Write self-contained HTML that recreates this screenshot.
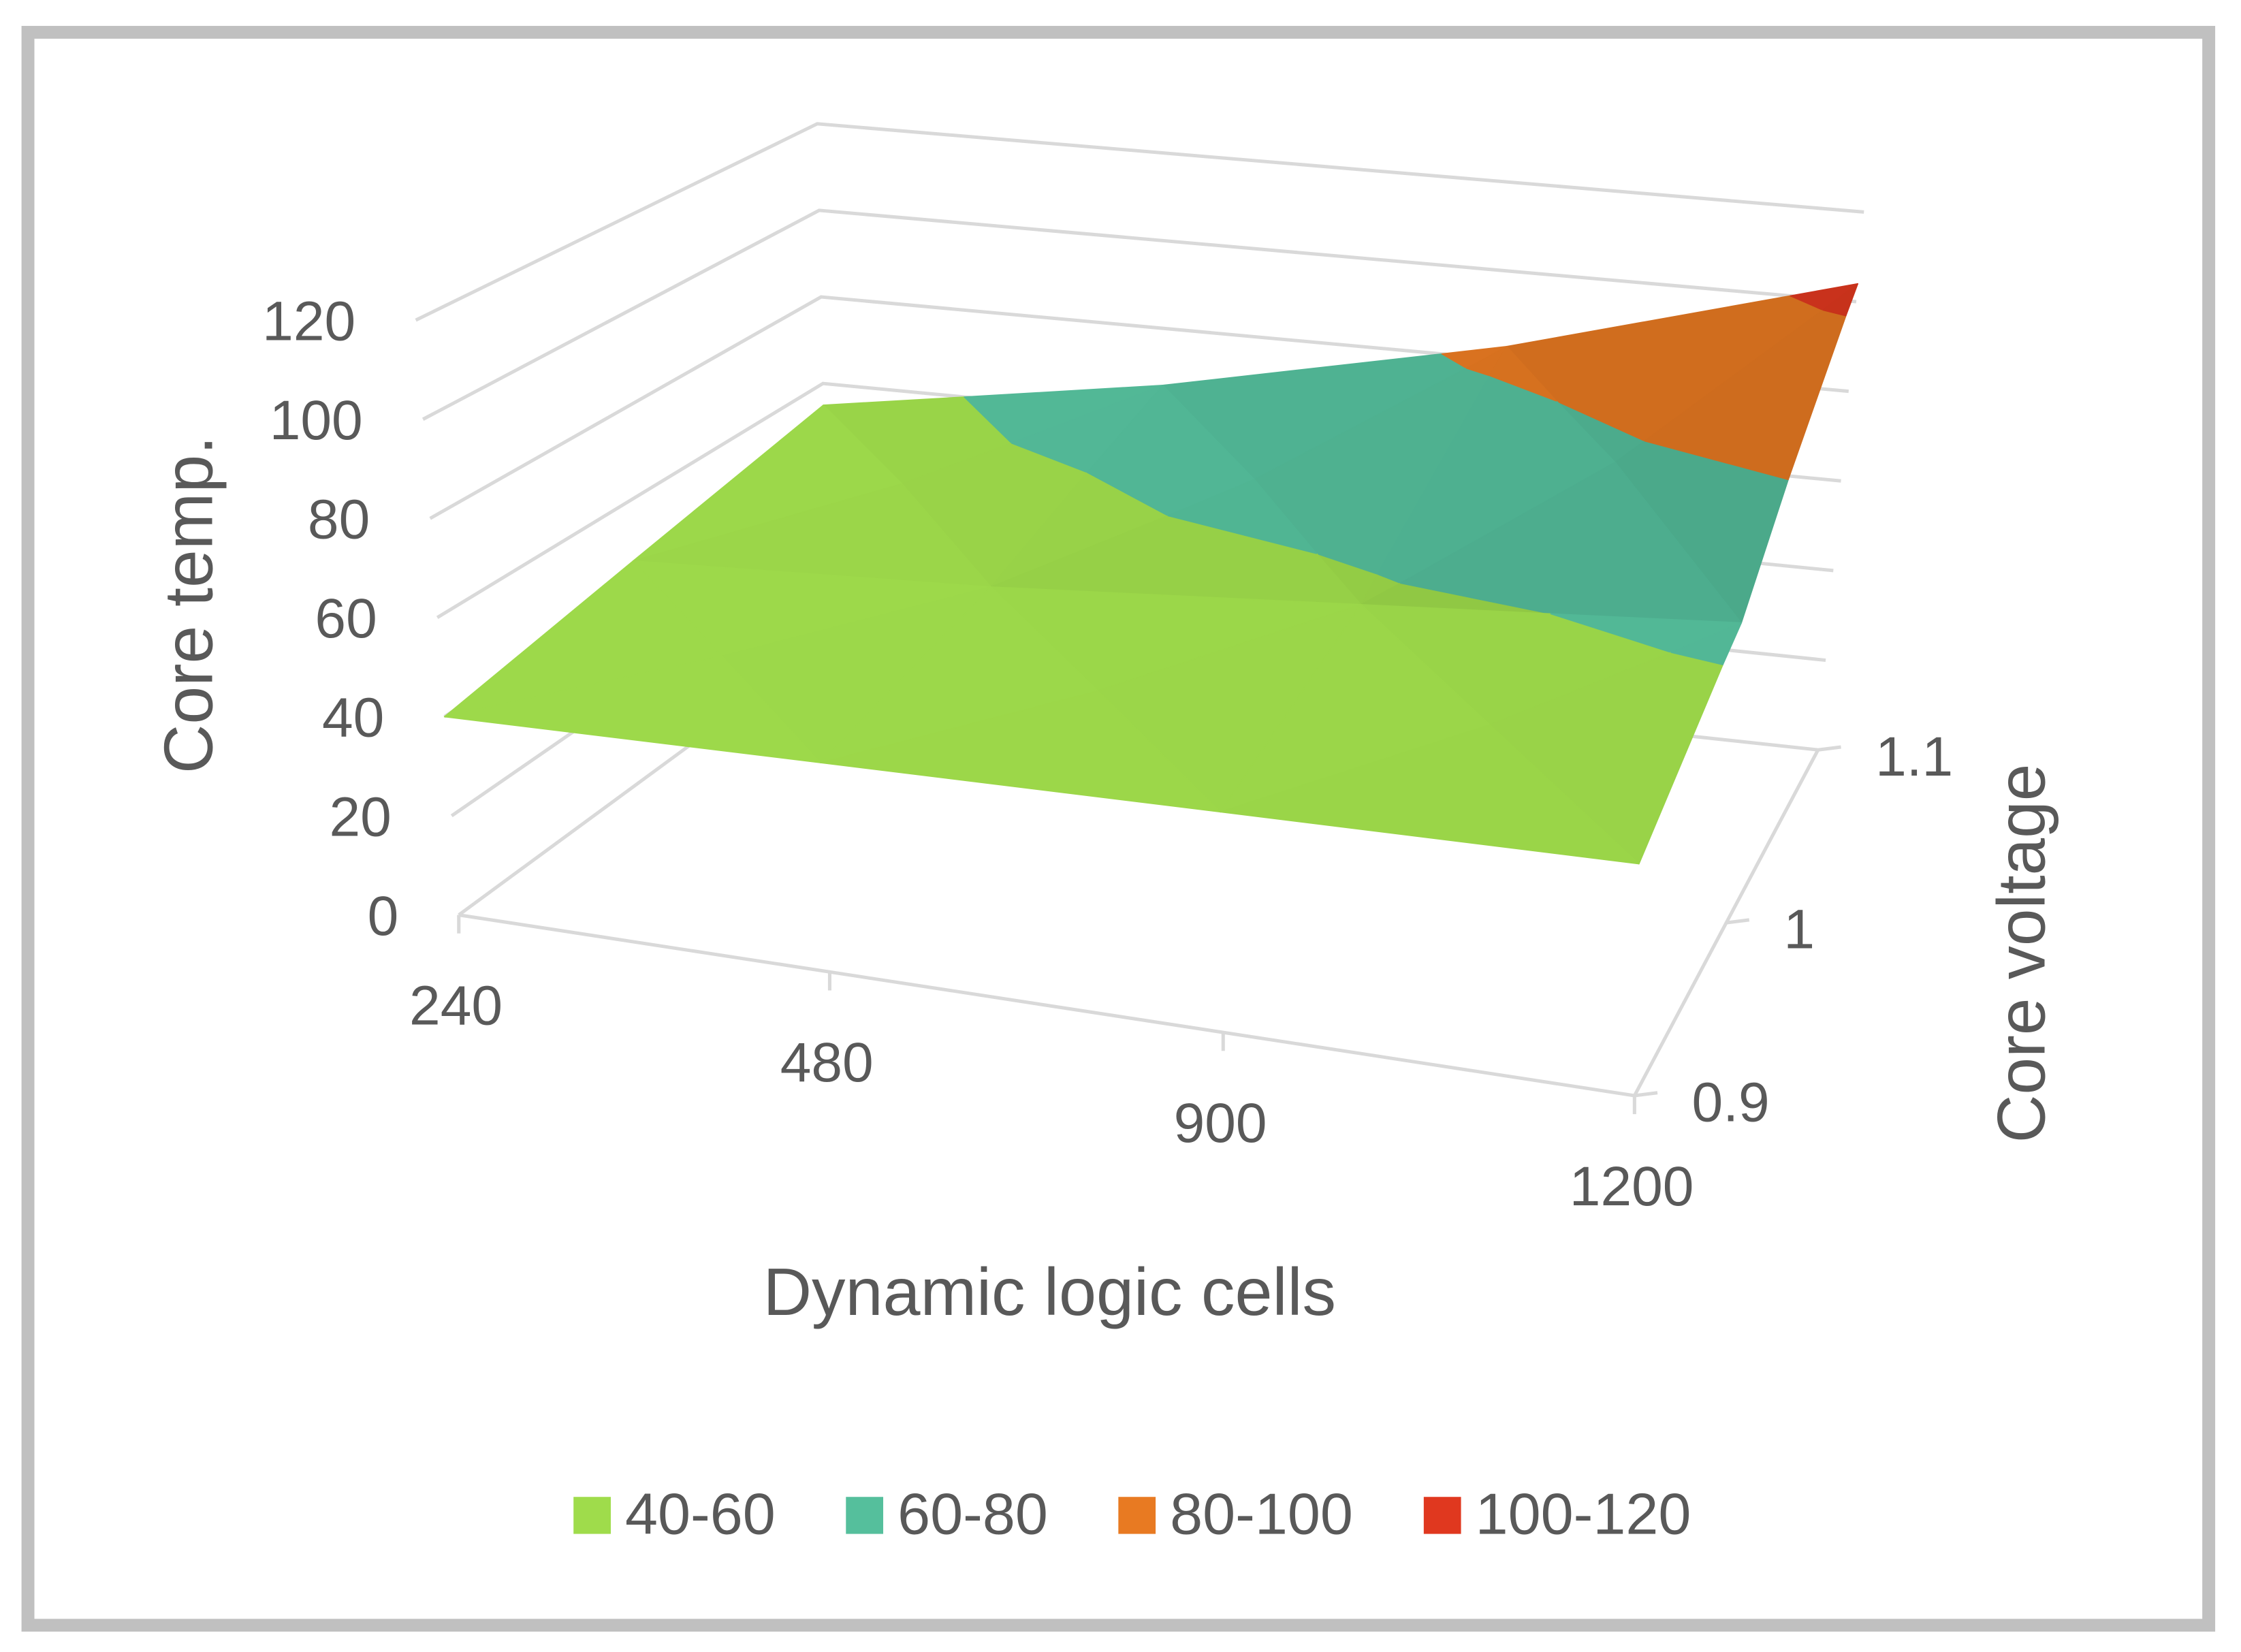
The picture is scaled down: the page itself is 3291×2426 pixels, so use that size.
<!DOCTYPE html>
<html><head><meta charset="utf-8"><style>
html,body{margin:0;padding:0;background:#fff;}
svg{display:block;}
text{font-family:"Liberation Sans",sans-serif;fill:#595959;}
</style></head><body>
<svg id="chart" width="3291" height="2426" viewBox="0 0 1563 1161" preserveAspectRatio="none" xmlns="http://www.w3.org/2000/svg">
<rect x="19.5" y="22.7" width="1521" height="1119.5" fill="#fff" stroke="#c0c0c0" stroke-width="9"/>
<g id="grid"></g>
<g id="surf"></g>
<g id="axes"></g>
<text transform="translate(148,425) rotate(-90)" text-anchor="middle" font-size="48">Core temp.</text>
<text transform="translate(1426,670) rotate(-90)" text-anchor="middle" font-size="47">Core voltage</text>
<text x="732" y="924" text-anchor="middle" font-size="47">Dynamic logic cells</text>
<g id="legend"></g>
</svg>
<script>
const xCats = ['240','480','900','1200'];
const depthCats = ['0.9','1','1.1'];
const zTicks = [0,20,40,60,80,100,120];
const row09 = [40,42,44,46];
const row10 = [47,51,57,63];
const row11 = [55,67,83,104];
const bandLo = [0,20,40,60,80,100];
const bandHi = [20,40,60,80,100,120];
const bandColors = ['#4472c4','#5b9bd5','#9fdc4b','#55bf9c','#e87a22','#e0381f'];
const legendLabels = ['40-60','60-80','80-100','100-120'];
const legendColors = ['#9fdc4b','#55bf9c','#e87a22','#e0381f'];

const rows = [row09,row10,row11];
const ZMAX = 120;
const F0=[320,643],F1=[1140,770],B0=[578,452],B1=[1268,527];
const VFL=[-30,-418],VFR=[8,-425],VBL=[-8,-365],VBR=[32,-378];
const FRONT_U=[0,0.311,0.646,1];
function remap(u){const s=u*3,i=Math.min(2,Math.floor(s)),t=s-i;return FRONT_U[i]+(FRONT_U[i+1]-FRONT_U[i])*t;}
function bl(a,b,c,d,u,v){return [(a[0]*(1-u)+b[0]*u)*(1-v)+(c[0]*(1-u)+d[0]*u)*v,(a[1]*(1-u)+b[1]*u)*(1-v)+(c[1]*(1-u)+d[1]*u)*v];}
function P(u,v,z){const uu=u+(remap(u)-u)*(1-v)*0.8;const f=bl(F0,F1,B0,B1,uu,v),w=bl(VFL,VFR,VBL,VBR,uu,v);return [f[0]+w[0]*z/ZMAX,f[1]+w[1]*z/ZMAX];}
const NS='http://www.w3.org/2000/svg';
function mk(tag,attrs,parent){const e=document.createElementNS(NS,tag);for(const k in attrs)e.setAttribute(k,attrs[k]);parent.appendChild(e);return e;}
const grid=document.getElementById('grid'),surf=document.getElementById('surf'),axes=document.getElementById('axes'),legend=document.getElementById('legend');
const GC='#d9d9d9';
zTicks.forEach(z=>{
  const a=P(0,0,z),b=P(0,1,z),c=P(1,1,z);
  let l=mk('polyline',{points:`${a} ${b} ${c}`,fill:'none',stroke:GC,'stroke-width':2.4},grid);
  
  
  let t=mk('text',{x:a[0]-42,y:a[1]+14,'text-anchor':'end','font-size':39},axes);
  t.textContent=z;
  
  
});
const nu=xCats.length-1,nv=depthCats.length-1;
function pt(i,j){return {u:i/nu,v:j/nv,z:rows[j][i]};}
function lerp(a,b,t){return {u:a.u+(b.u-a.u)*t,v:a.v+(b.v-a.v)*t,z:a.z+(b.z-a.z)*t};}
function clip(poly,val,keepAbove){
  const out=[];
  for(let k=0;k<poly.length;k++){
    const a=poly[k],b=poly[(k+1)%poly.length];
    const ina=keepAbove?a.z>=val:a.z<=val,inb=keepAbove?b.z>=val:b.z<=val;
    if(ina)out.push(a);
    if(ina!==inb)out.push(lerp(a,b,(val-a.z)/(b.z-a.z)));
  }
  return out;
}
function shade(hex,f){const n=parseInt(hex.slice(1),16);const r=Math.min(255,Math.round(((n>>16)&255)*f)),g=Math.min(255,Math.round(((n>>8)&255)*f)),b=Math.min(255,Math.round((n&255)*f));return `rgb(${r},${g},${b})`;}
for(let j=nv-1;j>=0;j--){
  for(let i=0;i<nu;i++){
    const a=pt(i,j),b=pt(i+1,j),c=pt(i+1,j+1),d=pt(i,j+1);
    const m={u:(a.u+b.u)/2,v:(a.v+d.v)/2,z:(a.z+b.z+c.z+d.z)/4};
    const tris=[[d,c,m],[a,d,m],[b,c,m],[a,b,m]];
    tris.forEach((tr)=>{
      const s=q=>[q.u*3,q.v*2,q.z/45];
      const p0=s(tr[0]),p1=s(tr[1]),p2=s(tr[2]);
      const e1=[p1[0]-p0[0],p1[1]-p0[1],p1[2]-p0[2]],e2=[p2[0]-p0[0],p2[1]-p0[1],p2[2]-p0[2]];
      let n=[e1[1]*e2[2]-e1[2]*e2[1],e1[2]*e2[0]-e1[0]*e2[2],e1[0]*e2[1]-e1[1]*e2[0]];
      const L=Math.hypot(n[0],n[1],n[2]);n=n.map(x=>x/L);if(n[2]<0)n=n.map(x=>-x);
      const f=0.86+0.14*Math.pow(Math.abs(n[2]),3)+0.04*n[1];
      bandLo.forEach((lo,bi)=>{
        let poly=clip(clip(tr,lo,true),bandHi[bi],false);
        if(poly.length<3)return;
        const pts=poly.map(q=>P(q.u,q.v,q.z).map(x=>x.toFixed(1)).join(',')).join(' ');
        const col=shade(bandColors[bi],Math.min(1.02,f));
        let e=mk('polygon',{points:pts,fill:col,stroke:col,'stroke-width':0.8,'stroke-linejoin':'round'},surf);
        
        
      });
    });
  }
}
{const a=P(0,0,0),b=P(1,0,0),c=P(1,1,0);
let l=mk('polyline',{points:`${a} ${b} ${c}`,fill:'none',stroke:GC,'stroke-width':2.4},axes);

}
xCats.forEach((c,i)=>{
  const p=P(i/nu,0,0);
  let t=mk('line',{x1:p[0],y1:p[1],x2:p[0],y2:p[1]+13,stroke:GC,'stroke-width':2.4},axes);
  
  
  let tx=mk('text',{x:p[0]-2,y:p[1]+77,'text-anchor':'middle','font-size':39},axes);
  tx.textContent=c;
  
  
});
depthCats.forEach((c,j)=>{
  const p=P(1,j/nv,0);
  let t=mk('line',{x1:p[0],y1:p[1],x2:p[0]+16,y2:p[1]-2,stroke:GC,'stroke-width':2.4},axes);
  
  
  let tx=mk('text',{x:p[0]+40,y:p[1]+18,'font-size':39},axes);
  tx.textContent=c;
  
  
});
const lx=[400,590,780,993];
legendLabels.forEach((s,k)=>{
  let r=mk('rect',{x:lx[k],y:1052,width:26,height:26,fill:legendColors[k]},legend);
  
  
  let t=mk('text',{x:lx[k]+36,y:1078,'font-size':41},legend);
  t.textContent=s;
  
  
});
</script>
</body></html>
